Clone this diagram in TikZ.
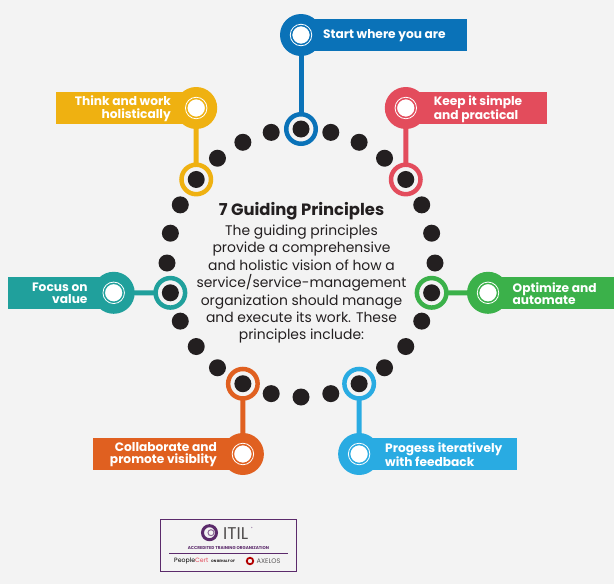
\documentclass[tikz,border=0pt]{standalone}
\usepackage{fontspec}
\setmainfont{Poppins}
\usetikzlibrary{calc}
\definecolor{paper}{HTML}{F3F3F3}
\definecolor{ink}{HTML}{231F20}
\definecolor{cblue}{HTML}{0A72B8}
\definecolor{cred}{HTML}{E34C5C}
\definecolor{cgreen}{HTML}{3BB14A}
\definecolor{csky}{HTML}{29ABE2}
\definecolor{corange}{HTML}{E06020}
\definecolor{cteal}{HTML}{20A09C}
\definecolor{cyellow}{HTML}{EFB111}
\definecolor{cpurple}{HTML}{5B2A6B}
\tikzset{
 dot/.style={circle,fill=ink,inner sep=0,minimum size=17pt},
 ring/.style={circle,draw=#1,line width=4.5pt,fill=paper,inner sep=0,minimum size=29.5pt},
 hub/.style={circle,fill=#1,inner sep=0,minimum size=42pt},
 eye/.style={circle,fill=white,draw=#1,double=white,double distance=.8pt,line width=1.6pt,inner sep=0,minimum size=21.5pt},
 bar/.style={fill=#1,inner sep=0,minimum height=31.4pt},
 tag/.style={text=white,font=\fontsize{12.2}{12.2}\selectfont\bfseries,inner sep=0,yshift=-.8pt},
 link/.style={draw=#1,line width=5pt,shorten <=-1pt,shorten >=-1pt},
 tiny/.style={inner sep=0,text=cpurple,font=\fontsize{4.2}{5}\selectfont\bfseries}
}
\begin{document}
\begin{tikzpicture}[x=1pt,y=-1pt]
 \fill[paper] (0,0) rectangle (614,584);
 \useasboundingbox (0,0) rectangle (614,584);
 \coordinate (o) at (301,263);
 % rings under the dots
 \foreach \i/\c in {0/cblue,4/cred,8/cgreen,12/csky,16/corange,20/cteal,24/cyellow} {
 \node[ring=\c] (r\i) at ($(o)+(\i*360/28-90:134)$) {};
 }
 \foreach \i in {0,...,27} {
 \node[dot] (d\i) at ($(o)+(\i*360/28-90:134)$) {};
 }
 % bars
 \node[bar=cblue,anchor=west,minimum width=165.7pt] (b0) at (301,35) {};
 \node[bar=cred,anchor=west,minimum width=141pt] (b4) at (405.8,108) {};
 \node[bar=cgreen,anchor=west,minimum width=126pt] (b8) at (488,292.8) {};
 \node[bar=csky,anchor=west,minimum width=158pt] (b12) at (359.1,454) {};
 \node[bar=corange,anchor=east,minimum width=150pt] (b16) at (242.9,454) {};
 \node[bar=cteal,anchor=east,minimum width=105.7pt] (b20) at (113.7,292.8) {};
 \node[bar=cyellow,anchor=east,minimum width=140.5pt] (b24) at (196.2,108) {};
 % hubs
 \foreach \i/\c/\x/\y in {0/cblue/301/35,4/cred/405.8/108,8/cgreen/488/292.8,12/csky/359.1/454,
   16/corange/242.9/454,20/cteal/113.7/292.8,24/cyellow/196.2/108} {
 \node[hub=\c] (h\i) at (\x,\y) {};
 \node[eye=\c] (e\i) at (\x,\y) {};
 \draw[link=\c] (h\i) -- (r\i);
 }
 \node[tag,anchor=west,align=left] (t0) at (323,35) {Start where you are};
 \node[tag,anchor=west,align=left] (t4) at (433.7,108) {Keep it simple\\and practical};
 \node[tag,anchor=west,align=left] (t8) at (512.5,292.8) {Optimize and\\automate};
 \node[tag,anchor=west,align=left] (t12) at (385,454) {Progess iteratively\\with feedback};
 \node[tag,anchor=east,align=right] (t16) at (217,454) {Collaborate and\\promote visiblity};
 \node[tag,anchor=east,align=right] (t20) at (87.7,292.8) {Focus on\\value};
 \node[tag,anchor=east,align=right] (t24) at (171,108) {Think and work\\holistically};
 % middle text
 \node[text=ink,font=\fontsize{16.4}{17}\selectfont\bfseries,inner sep=0] (title) at (301.5,211) {7 Guiding Principles};
 \node[text=ink,font=\fontsize{13.9}{17.45}\selectfont,align=center,inner sep=0,anchor=north] (body) at (301.5,224.5)
 {The guiding principles\\provide a comprehensive\\and holistic vision of how a\\service/service-management\\organization should manage\\and execute its work. These\\principles include:};
 % logo
 \node[draw=cpurple,line width=.8pt,anchor=north west,inner sep=0,minimum width=136pt,minimum height=51.7pt] (logo) at (160,519.3) {};
 \node[circle,draw=cpurple,line width=3pt,inner sep=0,minimum size=14pt] (swirl) at (209.5,532.7) {};
 \node[circle,draw=cpurple!70,line width=1pt,inner sep=0,minimum size=6pt] (swirlin) at (211,532.7) {};
 \node[inner sep=0,text=ink!80,font=\fontsize{17}{17}\selectfont,anchor=west] (itil) at (223,533.5) {ITIL};
 \node[tiny,font=\fontsize{3}{3}\selectfont] (reg) at (252,528) {®};
 \node[tiny] (acc) at (228.5,548) {ACCREDITED TRAINING ORGANIZATION};
 \coordinate (ruleA) at (169,553.3);
 \coordinate (ruleB) at (287.7,553.3);
 \draw[cpurple,line width=.7pt] (ruleA) -- (ruleB);
 \node[inner sep=0,anchor=west,font=\fontsize{6.2}{7}\selectfont] (pc) at (174,561) {People\textcolor{cred}{Cert}};
 \node[tiny,text=ink,font=\fontsize{3.4}{4}\selectfont\bfseries,anchor=west] (behalf) at (211,561) {ON BEHALF OF};
 \node[circle,draw=red!70!black,line width=1.8pt,inner sep=0,minimum size=6.5pt] (axmark) at (250,561) {};
 \node[inner sep=0,anchor=west,text=ink!75,font=\fontsize{6.6}{7}\selectfont] (ax) at (256.5,561) {AXELOS};
\end{tikzpicture}
\end{document}
